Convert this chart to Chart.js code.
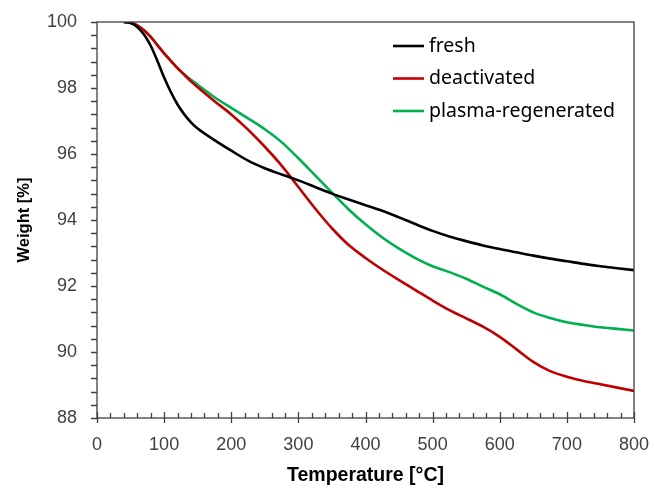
<!DOCTYPE html>
<html>
<head>
<meta charset="utf-8">
<script src="https://cdn.jsdelivr.net/npm/chart.js@4"></script>
<style>
  html,body{margin:0;padding:0;background:#fff;}
  #wrap{width:654px;height:488px;}
</style>
</head>
<body>
<div id="wrap"><canvas id="c" width="654" height="488"></canvas></div>
<script>
// temperatures [°C] shared by all three curves
const temps=[40,50,60,70,80,90,100,110,120,130,140,150,175,200,225,250,275,300,325,350,375,400,425,450,475,500,525,550,575,600,625,650,675,700,725,750,775,800];

const fresh=[100,99.97,99.85,99.62,99.28,98.82,98.32,97.88,97.5,97.2,96.96,96.77,96.42,96.1,95.8,95.57,95.38,95.2,95.0,94.8,94.62,94.45,94.28,94.08,93.87,93.67,93.5,93.36,93.23,93.12,93.02,92.92,92.83,92.75,92.67,92.6,92.54,92.48];
const deactivated=[100,99.98,99.9,99.75,99.55,99.3,99.05,98.82,98.6,98.4,98.2,98.02,97.6,97.2,96.74,96.22,95.65,95.0,94.35,93.75,93.24,92.85,92.5,92.18,91.87,91.56,91.27,91.02,90.77,90.46,90.08,89.7,89.42,89.25,89.12,89.02,88.92,88.82];
const regenerated=[100,99.98,99.9,99.75,99.55,99.3,99.05,98.82,98.6,98.42,98.25,98.1,97.72,97.4,97.08,96.75,96.36,95.87,95.35,94.83,94.32,93.87,93.47,93.13,92.84,92.6,92.42,92.22,91.98,91.75,91.46,91.2,91.03,90.9,90.82,90.75,90.7,90.65];

const seriesNames=["fresh","deactivated","plasma-regenerated"];
const seriesColors=["#000000","#c00000","#00b050"];

const xTitle="Temperature [°C]";
const yTitle="Weight [%]";

const axisColor="#404040";
const tickFont={family:"'Liberation Sans', Arial, sans-serif",size:18};
const xTitleFont={family:"'Liberation Sans', Arial, sans-serif",size:19.5,weight:"bold"};
const yTitleFont={family:"'Liberation Sans', Arial, sans-serif",size:16.5,weight:"bold"};

function pts(ys){ return temps.map((t,i)=>({x:t,y:ys[i]})); }

const datasets=[fresh,deactivated,regenerated].map((ys,i)=>({
  label:seriesNames[i],
  data:pts(ys),
  borderColor:seriesColors[i],
  backgroundColor:seriesColors[i],
  borderWidth:2.6,
  pointRadius:0,
  cubicInterpolationMode:"monotone",
  fill:false
}));

// ticks (major crossing / minor) + frame + legend inside the plot
const decor={
  id:"decor",
  afterDraw(chart){
    const ctx=chart.ctx, a=chart.chartArea;
    const xs=chart.scales.x, ys=chart.scales.y;
    ctx.save();
    ctx.strokeStyle=axisColor;
    ctx.lineWidth=1.3;
    ctx.strokeRect(a.left,a.top,a.right-a.left,a.bottom-a.top);
    ctx.beginPath();
    for(let v=0;v<=800;v+=20){
      const px=Math.round(xs.getPixelForValue(v))+0.5;
      if(v%100===0){ ctx.moveTo(px,a.bottom+5); ctx.lineTo(px,a.bottom-6); }
      else { ctx.moveTo(px,a.bottom); ctx.lineTo(px,a.bottom-5); }
    }
    for(let k=0;k<=30;k++){
      const v=88+k*0.4;
      const py=Math.round(ys.getPixelForValue(v))+0.5;
      ctx.moveTo(a.left-6,py); ctx.lineTo(a.left,py);
    }
    ctx.stroke();

    // legend
    const lx0=393, lx1=424, ly0=46, dy=32.5;
    ctx.font="19.5px 'Noto Sans', sans-serif";
    ctx.textBaseline="middle";
    ctx.textAlign="left";
    chart.data.datasets.forEach((d,i)=>{
      const y=ly0+i*dy;
      ctx.strokeStyle=d.borderColor;
      ctx.lineWidth=2.6;
      ctx.beginPath(); ctx.moveTo(lx0,y); ctx.lineTo(lx1,y); ctx.stroke();
      ctx.fillStyle="#000";
      ctx.fillText(d.label,lx1+5,y);
    });
    ctx.restore();
  }
};

new Chart(document.getElementById("c"),{
  type:"line",
  data:{datasets},
  options:{
    responsive:false,
    animation:false,
    events:[],
    layout:{padding:{left:0,right:20,top:22,bottom:0}},
    plugins:{legend:{display:false},tooltip:{enabled:false}},
    scales:{
      x:{
        type:"linear",min:0,max:800,
        ticks:{stepSize:100,color:axisColor,font:tickFont,padding:16,maxRotation:0},
        grid:{display:false,drawTicks:false},
        border:{display:false},
        title:{display:true,text:xTitle,color:"#000",font:xTitleFont,padding:{top:0,bottom:1}},
        afterFit(s){ s.height=70; s.paddingLeft=0; s.paddingRight=0; }
      },
      y:{
        min:88,max:100,
        ticks:{stepSize:2,color:axisColor,font:tickFont,padding:20},
        grid:{display:false,drawTicks:false},
        border:{display:false},
        title:{display:true,text:yTitle,color:"#000",font:yTitleFont,padding:{top:15,bottom:0}},
        afterFit(s){ s.width=97; s.paddingTop=0; s.paddingBottom=0; }
      }
    }
  },
  plugins:[decor]
});
</script>
</body>
</html>
